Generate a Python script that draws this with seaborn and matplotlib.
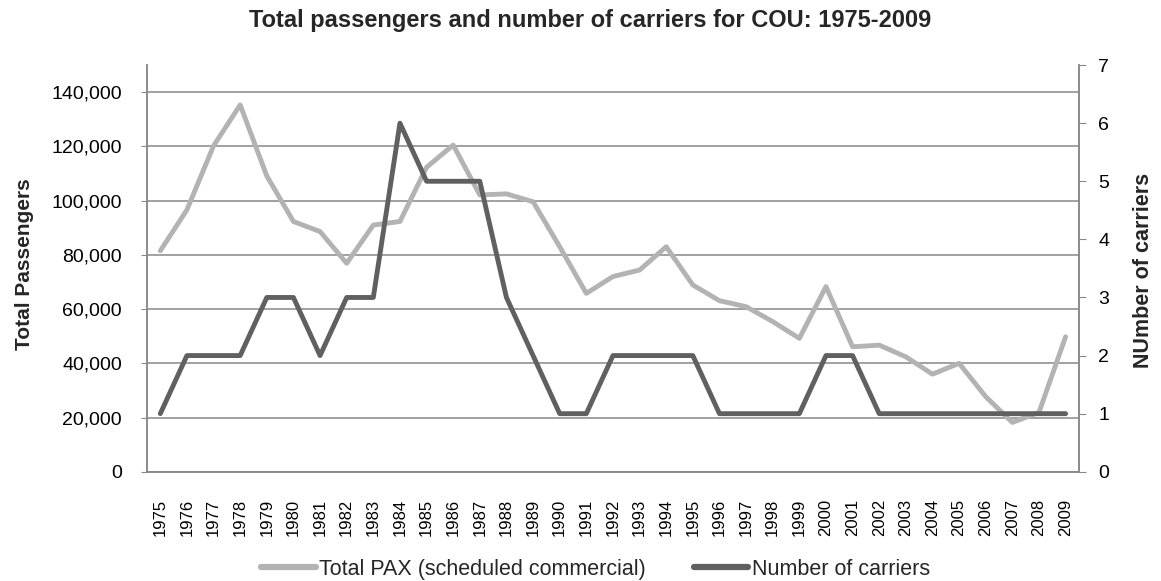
import matplotlib
matplotlib.use("Agg")
import matplotlib.pyplot as plt
import pandas as pd
import seaborn as sns
from matplotlib.ticker import FuncFormatter, MultipleLocator
from matplotlib.lines import Line2D

# Annual series for COU
years = list(range(1975, 2010))
total_pax = [81500, 96600, 120200, 135300, 109100, 92300, 88600, 76900, 91000, 92300,
             112300, 120500, 102100, 102500, 99600, 83000, 65800, 72000, 74400, 83000,
             68900, 63100, 60900, 55400, 49200, 68300, 46100, 46700, 42400, 36000,
             40000, 27700, 18200, 21900, 49800]
carriers = [1, 2, 2, 2, 3, 3, 2, 3, 3, 6,
            5, 5, 5, 3, 2, 1, 1, 2, 2, 2,
            2, 1, 1, 1, 1, 2, 2, 1, 1, 1,
            1, 1, 1, 1, 1]

pax_label = "Total PAX (scheduled commercial)"
carrier_label = "Number of carriers"

df = pd.DataFrame({"year": years, "pax": total_pax, "carriers": carriers})

sns.set_style("white")
plt.rcParams["font.family"] = ["Liberation Sans", "DejaVu Sans"]

light = "#b3b3b3"
dark = "#606060"
axis_grey = "#888888"

fig = plt.figure(figsize=(11.61, 5.81), dpi=100)
ax = fig.add_axes([0.1266, 0.188, 0.8027, 0.700])
ax2 = ax.twinx()

sns.lineplot(data=df, x="year", y="pax", ax=ax, color=light, linewidth=3.5,
             legend=False)
sns.lineplot(data=df, x="year", y="carriers", ax=ax2, color=dark, linewidth=3.5,
             legend=False)

ax.set_xlim(years[0] - 0.5, years[-1] + 0.5)
ax.set_ylim(0, 150000)
ax2.set_ylim(0, 7)

ax.yaxis.set_major_locator(MultipleLocator(20000))
ax.yaxis.set_major_formatter(FuncFormatter(lambda v, p: f"{int(v):,}"))
ax2.yaxis.set_major_locator(MultipleLocator(1))
ax.set_xticks(years)
ax.set_xticklabels([str(y) for y in years], rotation=90)

ax.grid(axis="y", color=axis_grey, linewidth=1.1)
ax.grid(axis="x", visible=False)
ax.set_axisbelow(True)

for a in (ax, ax2):
    a.spines["top"].set_visible(False)
    for s in ("left", "right", "bottom"):
        a.spines[s].set_color(axis_grey)
        a.spines[s].set_linewidth(1.1)

ax.tick_params(axis="y", left=True, length=4, color=axis_grey, labelsize=14,
               pad=14, labelcolor="black")
ax.tick_params(axis="x", bottom=False, labelsize=12, pad=16, labelcolor="black")
ax2.tick_params(axis="y", right=True, length=5, color=axis_grey, labelsize=14,
                pad=9, labelcolor="black")

ax.set_xlabel("")
ax.set_ylabel("Total Passengers", fontsize=15, fontweight="bold")
ax2.set_ylabel("NUmber of carriers", fontsize=15.5, fontweight="bold")
ax.yaxis.set_label_coords(-0.121, 0.51)
ax2.yaxis.set_label_coords(1.058, 0.495)

fig.text(0.508, 0.964, "Total passengers and number of carriers for COU: 1975-2009",
         fontsize=17, fontweight="bold", ha="center", va="center")

handles = [Line2D([], [], color=light, linewidth=4.5),
           Line2D([], [], color=dark, linewidth=4.5)]
fig.legend(handles, [pax_label, carrier_label], loc="center",
           bbox_to_anchor=(0.513, 0.02), ncol=2, frameon=False, fontsize=15.5,
           handlelength=2.55, handletextpad=0.15, columnspacing=2.2,
           borderpad=0, borderaxespad=0)

fig.savefig("out.png", dpi=100)
